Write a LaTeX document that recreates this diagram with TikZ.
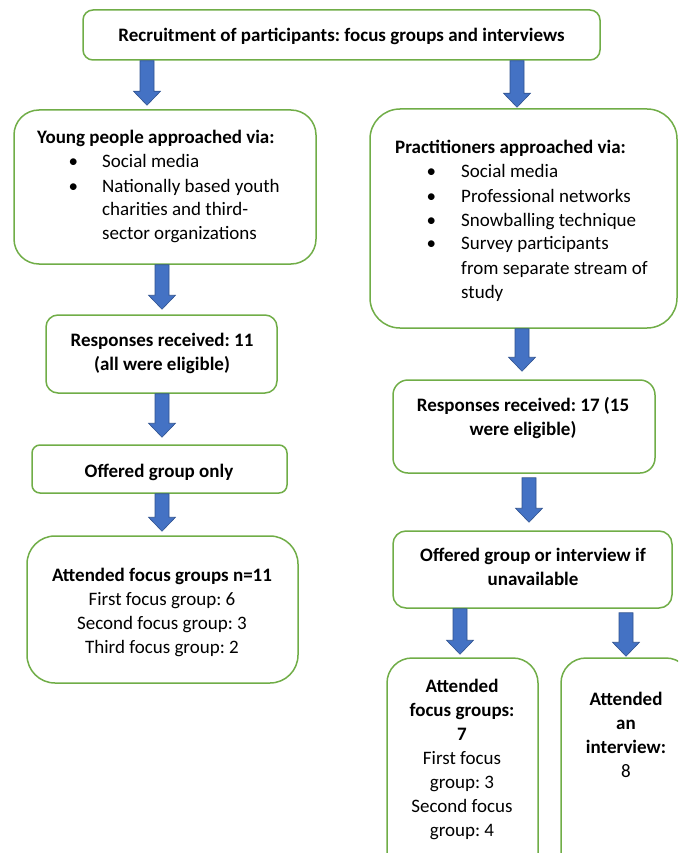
\documentclass[tikz,border=0pt]{standalone}
\usepackage{fontspec}
\setmainfont{Carlito}
\frenchspacing
\usetikzlibrary{calc}
\definecolor{boxgreen}{HTML}{70AD47}
\definecolor{arrowblue}{HTML}{4472C4}
\definecolor{arrowedge}{HTML}{2F528F}
\begin{document}
\begin{tikzpicture}[x=1pt,y=-1pt,
  box/.style={draw=boxgreen, line width=1.5pt, fill=white, rounded corners=#1, inner sep=0pt},
  box/.default=12pt,
  txt/.style={inner sep=0pt, font=\fontsize{19}{24}\selectfont},
  blockarrow/.style={fill=arrowblue, draw=arrowedge, line width=0.6pt,
    to path={let \p1=(\tikztostart), \p2=(\tikztotarget) in
      (\x1-7pt,\y1) -- (\x1+7pt,\y1) -- (\x1+7pt,\y2+14pt) -- (\x1+13.5pt,\y2+14pt)
      -- (\x1,\y2) -- (\x1-13.5pt,\y2+14pt) -- (\x1-7pt,\y2+14pt) -- cycle}}
]
\useasboundingbox (0,0) rectangle (678,853);
\clip (0,0) rectangle (678,853);

% boxes
\node[box=10pt, minimum width=517pt, minimum height=50pt] (top) at (341.5,35) {};
\node[box=25pt, minimum width=302pt, minimum height=154pt] (yp) at (165,187) {};
\node[box=30pt, minimum width=307pt, minimum height=219pt] (pr) at (523.5,218.5) {};
\node[box=12pt, minimum width=231pt, minimum height=78pt] (rs11) at (161.5,354) {};
\node[box=8pt, minimum width=255pt, minimum height=48pt] (og) at (159.5,469) {};
\node[box=28pt, minimum width=271pt, minimum height=147pt] (af) at (162.5,609.5) {};
\node[box=15pt, minimum width=262pt, minimum height=93pt] (rs17) at (524,426.5) {};
\node[box=13pt, minimum width=279pt, minimum height=77pt] (ogi) at (532.5,569.5) {};
\node[box=25pt, minimum width=151pt, minimum height=222pt] (afg) at (462.5,769) {};
\node[box=25pt, minimum width=130pt, minimum height=222pt] (ai) at (626,769) {};

% texts
\node[txt, anchor=base] (ttop) at (341.5,42) {\bfseries Recruitment of participants: focus groups and interviews};
\node[txt, anchor=base west] (typ) at (37,144) {\begin{tabular}[t]{@{\hspace{31.5pt}}p{33.5pt}@{}l@{}}
  \multicolumn{2}{@{}l@{}}{\bfseries Young people approached via:}\\
  \textbullet & Social media\\
  \textbullet & Nationally based youth\\
  & charities and third-\\
  & sector organizations
\end{tabular}};
\node[txt, anchor=base west] (tpr) at (395,154) {\begin{tabular}[t]{@{\hspace{31.5pt}}p{34.5pt}@{}l@{}}
  \multicolumn{2}{@{}l@{}}{\bfseries Practitioners approached via:}\\
  \textbullet & Social media\\
  \textbullet & Professional networks\\
  \textbullet & Snowballing technique\\
  \textbullet & Survey participants\\
  & from separate stream of\\
  & study
\end{tabular}};
\node[txt, anchor=base] (trs11) at (162,346) {\begin{tabular}[t]{@{}c@{}}\bfseries Responses received: 11\\ \bfseries (all were eligible)\end{tabular}};
\node[txt, anchor=base] (tog) at (159,477) {\bfseries Offered group only};
\node[txt, anchor=base] (taf) at (162,581) {\begin{tabular}[t]{@{}c@{}}\bfseries Attended focus groups n=11\\ First focus group: 6\\ Second focus group: 3\\ Third focus group: 2\end{tabular}};
\node[txt, anchor=base] (trs17) at (523,411) {\begin{tabular}[t]{@{}c@{}}\bfseries Responses received: 17 (15\\ \bfseries were eligible)\end{tabular}};
\node[txt, anchor=base] (togi) at (533,561) {\begin{tabular}[t]{@{}c@{}}\bfseries Offered group or interview if\\ \bfseries unavailable\end{tabular}};
\node[txt, anchor=base] (tafg) at (462,692) {\begin{tabular}[t]{@{}c@{}}\bfseries Attended\\ \bfseries focus groups:\\ \bfseries 7\\ First focus\\ group: 3\\ Second focus\\ group: 4\end{tabular}};
\node[txt, anchor=base] (tai) at (626,705) {\begin{tabular}[t]{@{}c@{}}\bfseries Attended\\ \bfseries an\\ \bfseries interview:\\ 8\end{tabular}};

% arrow columns
\coordinate (xl1) at (147,0);
\coordinate (xr1) at (517,0);
\coordinate (xl) at (162,0);
\coordinate (xr2) at (522,0);
\coordinate (xr3) at (529,0);
\coordinate (xr4a) at (460,0);
\coordinate (xr4b) at (626,0);

% arrows
\draw[blockarrow] (top.south -| xl1) to ($(yp.north -| xl1)+(0,-4)$);
\draw[blockarrow] (top.south -| xr1) to ($(pr.north -| xr1)+(0,-1)$);
\draw[blockarrow] (yp.south -| xl) to ($(rs11.north -| xl)+(0,-5)$);
\draw[blockarrow] (pr.south -| xr2) to ($(rs17.north -| xr2)+(0,-8)$);
\draw[blockarrow] (rs11.south -| xl) to ($(og.north -| xl)+(0,-7)$);
\draw[blockarrow] ($(rs17.south -| xr3)+(0,4)$) to ($(ogi.north -| xr3)+(0,-8)$);
\draw[blockarrow] (og.south -| xl) to ($(af.north -| xl)+(0,-4)$);
\draw[blockarrow] (ogi.south -| xr4a) to ($(afg.north -| xr4a)+(0,-3)$);
\draw[blockarrow] ($(ogi.south -| xr4b)+(0,4)$) to ($(ai.north -| xr4b)+(0,-1)$);
\end{tikzpicture}
\end{document}
